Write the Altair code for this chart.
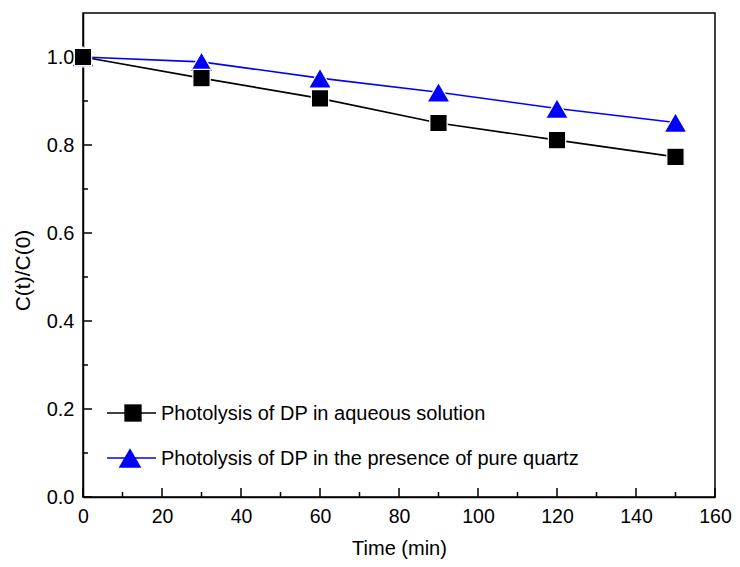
import altair as alt
import pandas as pd

# ---- data ----
time_min = [0, 30, 60, 90, 120, 150]
aqueous = [1.0, 0.952, 0.906, 0.850, 0.811, 0.773]
quartz = [1.0, 0.989, 0.952, 0.920, 0.883, 0.851]
series_names = ["Photolysis of DP in aqueous solution",
                "Photolysis of DP in the presence of pure quartz"]
series_colors = ["#000000", "#0000ff"]

x_major = [0, 20, 40, 60, 80, 100, 120, 140, 160]
x_minor = [10, 30, 50, 70, 90, 110, 130, 150]
y_major = [0.0, 0.2, 0.4, 0.6, 0.8, 1.0]
y_minor = [0.1, 0.3, 0.5, 0.7, 0.9]

FONT = "Liberation Sans"
W, H = 632, 484

df_aq = pd.DataFrame({"t": time_min, "v": aqueous})
df_qz = pd.DataFrame({"t": time_min, "v": quartz})

xscale = alt.Scale(domain=[0, 160], nice=False, zero=False)
yscale = alt.Scale(domain=[0, 1.1], nice=False, zero=False)

X = alt.X("t:Q", scale=xscale,
          axis=alt.Axis(values=x_major, title="Time (min)", grid=False, ticks=False,
                        labelFontSize=19.5, titleFontSize=20, labelPadding=10,
                        titlePadding=13, labelFont=FONT, titleFont=FONT,
                        labelColor="black", titleColor="black", titleFontWeight="normal",
                        domainColor="black", domainWidth=1.5, labelFlush=False))
Y = alt.Y("v:Q", scale=yscale,
          axis=alt.Axis(values=y_major, format=".1f", title="C(t)/C(0)", grid=False,
                        ticks=False, labelFontSize=20, titleFontSize=21, labelPadding=9,
                        titlePadding=13, labelFont=FONT, titleFont=FONT,
                        labelColor="black", titleColor="black", titleFontWeight="normal",
                        domainColor="black", domainWidth=1.5, titleY=257, labelFlush=False))

def series_layers(df, color, shape, size):
    line = alt.Chart(df).mark_line(color=color, strokeWidth=1.6).encode(x=X, y=Y)
    pts = alt.Chart(df).mark_point(filled=True, shape=shape, size=size, fill=color,
                                   stroke="white", strokeWidth=1.2, opacity=1).encode(x=X, y=Y)
    return line + pts

blue = series_layers(df_qz, series_colors[1], "triangle-up", 520)
black = series_layers(df_aq, series_colors[0], "square", 300)

# inward ticks
xt_major = alt.Chart(pd.DataFrame({"t": x_major})).mark_rule(color="black", strokeWidth=1.5).encode(
    x=alt.X("t:Q", scale=xscale), y=alt.value(H), y2=alt.value(H - 9))
xt_minor = alt.Chart(pd.DataFrame({"t": x_minor})).mark_rule(color="black", strokeWidth=1.5).encode(
    x=alt.X("t:Q", scale=xscale), y=alt.value(H), y2=alt.value(H - 5))
yt_major = alt.Chart(pd.DataFrame({"v": y_major})).mark_rule(color="black", strokeWidth=1.5).encode(
    y=alt.Y("v:Q", scale=yscale), x=alt.value(0), x2=alt.value(9))
yt_minor = alt.Chart(pd.DataFrame({"v": y_minor})).mark_rule(color="black", strokeWidth=1.5).encode(
    y=alt.Y("v:Q", scale=yscale), x=alt.value(0), x2=alt.value(5))

# manual legend
leg_layers = []
leg_rows = [(400, series_names[0], series_colors[0], "square", 300, 50),
            (445, series_names[1], series_colors[1], "triangle-up", 520, 47)]
for ypix, name, color, shape, size, cx in leg_rows:
    d = pd.DataFrame({"label": [name]})
    leg_layers.append(alt.Chart(d).mark_rule(color=color, strokeWidth=1.6).encode(
        x=alt.value(24), x2=alt.value(73), y=alt.value(ypix)))
    leg_layers.append(alt.Chart(d).mark_point(filled=True, shape=shape, size=size, fill=color,
                                              opacity=1, strokeWidth=0).encode(
        x=alt.value(cx), y=alt.value(ypix)))
    leg_layers.append(alt.Chart(d).mark_text(align="left", baseline="middle", font=FONT,
                                             fontSize=20, color="black").encode(
        x=alt.value(78), y=alt.value(ypix + 1), text="label:N"))

chart = alt.layer(xt_major, xt_minor, yt_major, yt_minor, blue, black, *leg_layers).properties(
    width=W, height=H,
    padding={"left": 75, "top": 5, "right": 17, "bottom": 70},
    autosize=alt.AutoSizeParams(type="none"),
    background="white",
).configure_view(stroke="black", strokeWidth=1.5)

chart.save("out.html", embed_options={"renderer": "svg", "actions": False})
